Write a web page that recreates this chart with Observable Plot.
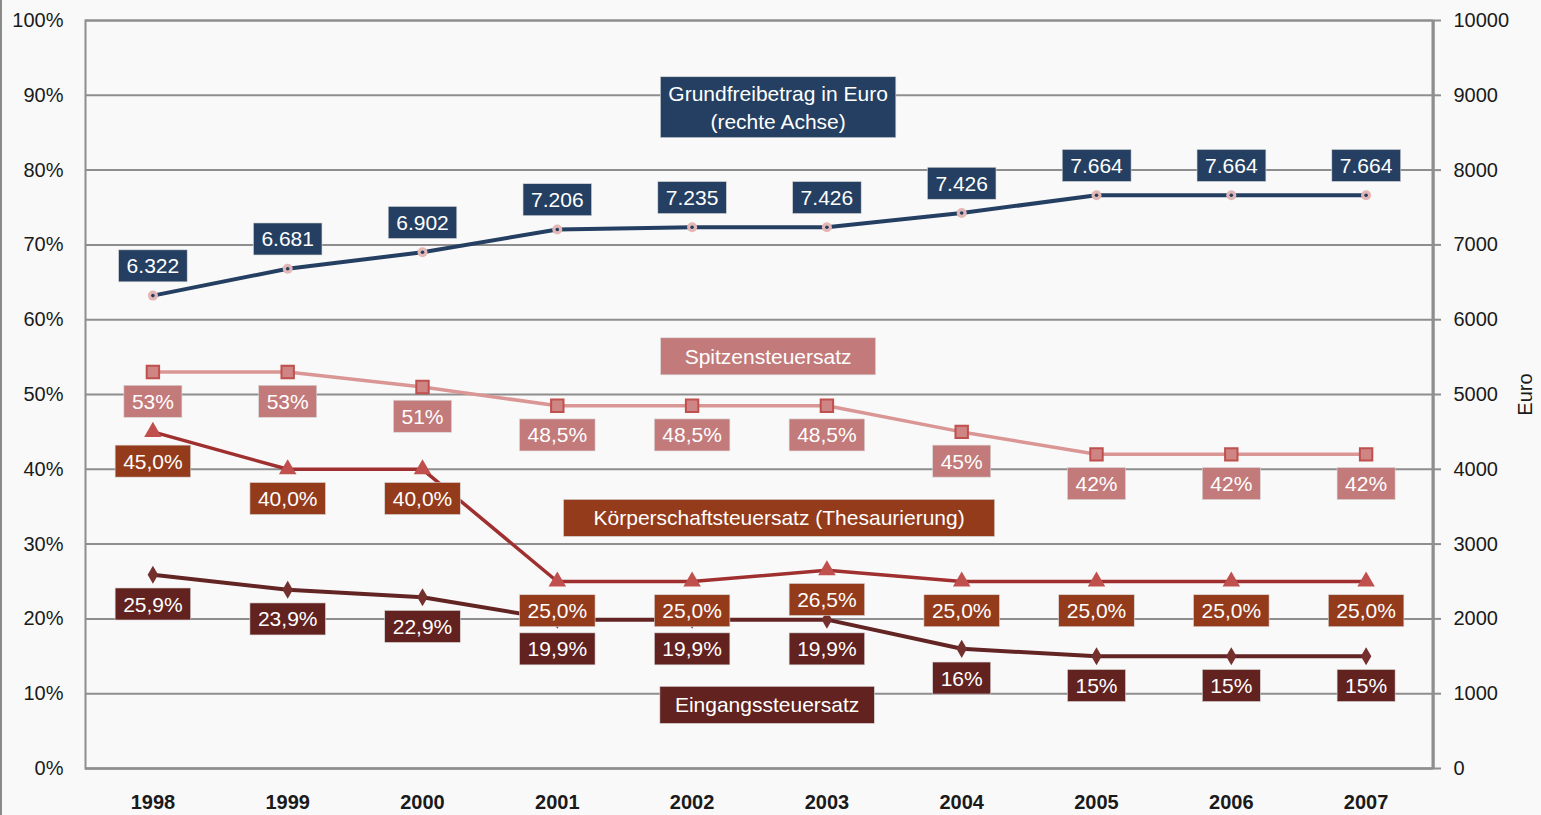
<!DOCTYPE html>
<html><head><meta charset="utf-8">
<script src="https://cdn.jsdelivr.net/npm/d3@7"></script>
<script src="https://cdn.jsdelivr.net/npm/@observablehq/plot@0.6"></script>
<style>
html,body{margin:0;padding:0;background:#f9f9f9;}
body{width:1541px;height:815px;overflow:hidden;position:relative;}
body::before{content:"";position:absolute;left:0;top:0;width:2px;height:815px;background:#8a8a8a;z-index:2;}
#chart svg{display:block;}
</style></head><body><div id="chart"></div>
<script>
// ---- data ----
const years = ["1998","1999","2000","2001","2002","2003","2004","2005","2006","2007"];
const grundEuro = [6322, 6681, 6902, 7206, 7235, 7235, 7426, 7664, 7664, 7664];
const grundLabels = ["6.322","6.681","6.902","7.206","7.235","7.426","7.426","7.664","7.664","7.664"];
const spitzen = [53, 53, 51, 48.5, 48.5, 48.5, 45, 42, 42, 42];
const spitzenLabels = ["53%","53%","51%","48,5%","48,5%","48,5%","45%","42%","42%","42%"];
const koerper = [45, 40, 40, 25, 25, 26.5, 25, 25, 25, 25];
const koerperLabels = ["45,0%","40,0%","40,0%","25,0%","25,0%","26,5%","25,0%","25,0%","25,0%","25,0%"];
const eingang = [25.9, 23.9, 22.9, 19.9, 19.9, 19.9, 16, 15, 15, 15];
const eingangLabels = ["25,9%","23,9%","22,9%","19,9%","19,9%","19,9%","16%","15%","15%","15%"];
const seriesNames = ["Grundfreibetrag in Euro\n(rechte Achse)", "Spitzensteuersatz", "Körperschaftsteuersatz (Thesaurierung)", "Eingangssteuersatz"];
const percentTicks = [0,10,20,30,40,50,60,70,80,90,100];
const euroTicks = [0,1000,2000,3000,4000,5000,6000,7000,8000,9000,10000];

const rows = years.map((year, i) => ({
  year,
  grund: grundEuro[i] / 100, grundLabel: grundLabels[i],
  spitzen: spitzen[i], spitzenLabel: spitzenLabels[i],
  koerper: koerper[i], koerperLabel: koerperLabels[i],
  eingang: eingang[i], eingangLabel: eingangLabels[i]
}));

const C = {
  grund: "#243f61", grundDot: "#e3b7b6",
  spitzLine: "#d99694", spitzBox: "#c27a7a", spitzMark: "#c0504d",
  koerLine: "#a0302f", koerBox: "#943b1c", koerMark: "#c0504d",
  einLine: "#632523", einBox: "#612220",
  grid: "#8e8e8e", text: "#1a1a1a"
};
const FONT = '"Liberation Sans", Arial, sans-serif';
const LBL = 21;

const chart = Plot.plot({
  width: 1541, height: 815,
  marginLeft: 85, marginRight: 108, marginTop: 20, marginBottom: 47,
  style: {background: "#f9f9f9", fontFamily: FONT, overflow: "visible"},
  x: {type: "point", domain: years, padding: 0.5, round: false},
  y: {domain: [0, 100]},
  marks: [
    Plot.gridY(percentTicks, {stroke: C.grid, strokeOpacity: 1, strokeWidth: 2}),
    Plot.frame({stroke: C.grid, strokeWidth: 2}),
    Plot.axisY(percentTicks, {anchor: "left", tickFormat: d => d + "%", tickSize: 0, tickPadding: 22, fontSize: 20, fill: C.text, label: null}),
    Plot.axisY(percentTicks, {anchor: "right", tickFormat: (d, i) => String(euroTicks[i]), tickSize: 7, tickPadding: 13,
      stroke: C.grid, strokeWidth: 2, fill: C.text, fontSize: 20, label: "Euro", labelAnchor: "center", labelOffset: 98, labelArrow: "none"}),
    Plot.ruleY([0], {stroke: C.grid, strokeWidth: 2}),
    Plot.axisX({tickSize: 0, tickPadding: 26, fontSize: 20, fontWeight: "bold", fill: C.text, label: null}),
    // lines
    Plot.line(rows, {x: "year", y: "grund", stroke: C.grund, strokeWidth: 4}),
    Plot.line(rows, {x: "year", y: "spitzen", stroke: C.spitzLine, strokeWidth: 3.5}),
    Plot.line(rows, {x: "year", y: "koerper", stroke: C.koerLine, strokeWidth: 3.5}),
    Plot.line(rows, {x: "year", y: "eingang", stroke: C.einLine, strokeWidth: 4}),
    // markers
    Plot.dot(rows, {x: "year", y: "grund", r: 5, fill: C.grundDot}),
    Plot.dot(rows, {x: "year", y: "grund", r: 1.8, fill: C.grund}),
    Plot.dot(rows, {x: "year", y: "spitzen", symbol: "square", r: 7, fill: "#cf8584", stroke: C.spitzMark, strokeWidth: 2}),
    Plot.dot(rows, {x: "year", y: "koerper", symbol: "triangle", r: 6.5, fill: C.koerMark}),
    Plot.dot(rows, {x: "year", y: "eingang", symbol: "diamond", r: 5.5, fill: "#74302d"}),
    // value labels (boxes added after render)
    Plot.text(rows, {x: "year", y: "grund", text: "grundLabel", dy: -29, fill: "white", fontSize: LBL}),
    Plot.text(rows, {x: "year", y: "spitzen", text: "spitzenLabel", dy: 30, fill: "white", fontSize: LBL}),
    Plot.text(rows, {x: "year", y: "koerper", text: "koerperLabel", dy: 30, fill: "white", fontSize: LBL}),
    Plot.text(rows, {x: "year", y: "eingang", text: "eingangLabel", dy: 30, fill: "white", fontSize: LBL}),
    // series name labels
    Plot.text([seriesNames[0]], {x: () => years[4], y: () => 88.6, dx: 86, text: d => d, fill: "white", fontSize: LBL, lineHeight: 1.33}),
    Plot.text([seriesNames[1]], {x: () => years[4], y: () => 55, dx: 76, text: d => d, fill: "white", fontSize: LBL}),
    Plot.text([seriesNames[2]], {x: () => years[4], y: () => 33.4, dx: 87, text: d => d, fill: "white", fontSize: LBL}),
    Plot.text([seriesNames[3]], {x: () => years[4], y: () => 8.4, dx: 75, text: d => d, fill: "white", fontSize: LBL})
  ]
});

document.getElementById("chart").append(chart);

(function () {
  const svg = chart.tagName.toLowerCase() === "svg" ? chart : chart.querySelector("svg");
  const NS = "http://www.w3.org/2000/svg";
  // right axis line (thicker)
  const l = document.createElementNS(NS, "line");
  l.setAttribute("x1", 1541 - 108); l.setAttribute("x2", 1541 - 108);
  l.setAttribute("y1", 20); l.setAttribute("y2", 815 - 47);
  l.setAttribute("stroke", C.grid); l.setAttribute("stroke-width", 3);
  const frame = svg.querySelector('[aria-label="frame"]');
  if (frame && frame.nextSibling) svg.insertBefore(l, frame.nextSibling); else svg.append(l);

  const boxes = [
    {fill: C.grund, px: 8, py: 4.5},
    {fill: C.spitzBox, px: 8, py: 4.5},
    {fill: C.koerBox, px: 8, py: 4.5},
    {fill: C.einBox, px: 8, py: 4.5},
    {fill: C.grund, px: 8, py: 5},
    {fill: C.spitzBox, px: 24, py: 7},
    {fill: C.koerBox, px: 30, py: 7},
    {fill: C.einBox, px: 15, py: 7}
  ];
  const groups = svg.querySelectorAll('g[aria-label="text"]');
  boxes.forEach((s, i) => {
    const g = groups[i]; if (!g) return;
    g.querySelectorAll("text").forEach(t => {
      const b = t.getBBox();
      const r = document.createElementNS(NS, "rect");
      r.setAttribute("x", b.x - s.px); r.setAttribute("y", b.y - s.py);
      r.setAttribute("width", b.width + 2 * s.px); r.setAttribute("height", b.height + 2 * s.py);
      r.setAttribute("fill", s.fill);
      r.setAttribute("stroke", "#d8d8d8"); r.setAttribute("stroke-width", 0.6);
      const tr = t.getAttribute("transform"); if (tr) r.setAttribute("transform", tr);
      t.parentNode.insertBefore(r, t);
    });
  });
})();
</script></body></html>
